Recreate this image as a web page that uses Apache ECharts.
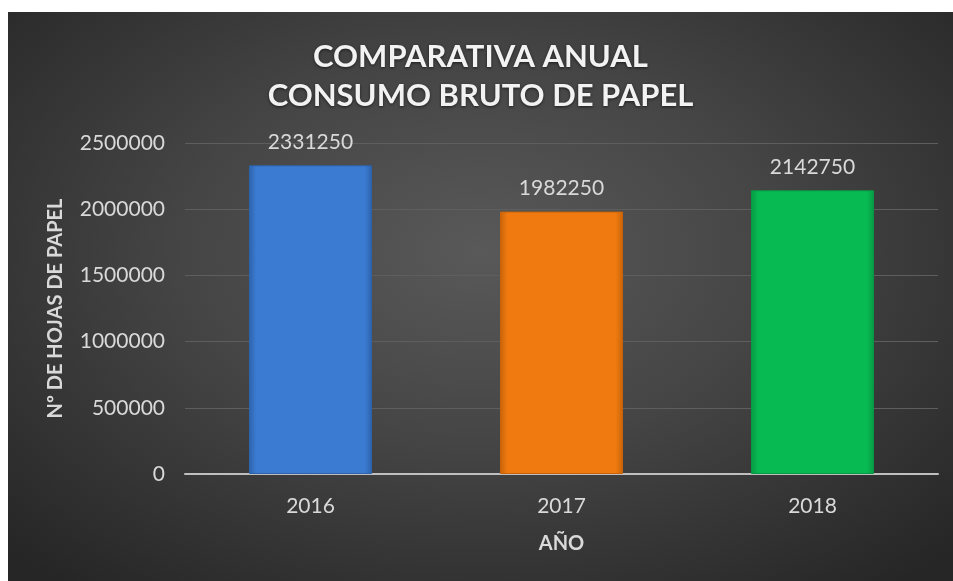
<!DOCTYPE html>
<html>
<head>
<meta charset="utf-8">
<script src="https://cdn.jsdelivr.net/npm/echarts@6/dist/echarts.min.js"></script>
<style>
  html, body { margin: 0; padding: 0; background: #ffffff; }
  #chart {
    position: absolute;
    left: 8px;
    top: 12px;
    width: 945px;
    height: 569px;
    background: radial-gradient(ellipse 70% 75% at 50% 42%, #595959 0%, #454545 45%, #262626 100%);
  }
</style>
</head>
<body>
<div id="chart"></div>
<script>
// data
const years = ['2016', '2017', '2018'];
const sheets = [2331250, 1982250, 2142750];
const barColors = [
    ['#4a90e4', '#3b7cd2', '#2d63ab'],
    ['#fb8a22', '#f07a10', '#c8630a'],
    ['#15cc62', '#08ba52', '#079a44']
];

const chart = echarts.init(document.getElementById('chart'));

const font = 'Lato, "Open Sans", sans-serif';

const seriesData = sheets.map((v, i) => ({
    value: v,
    itemStyle: {
        color: {
            type: 'linear', x: 0, y: 0, x2: 1, y2: 0,
            colorStops: [
                { offset: 0, color: barColors[i][2] },
                { offset: 0.06, color: barColors[i][1] },
                { offset: 0.94, color: barColors[i][1] },
                { offset: 1, color: barColors[i][2] }
            ]
        },
        borderColor: barColors[i][2],
        borderWidth: 1
    }
}));

const option = {
    backgroundColor: 'transparent',
    title: {
        text: 'COMPARATIVA ANUAL\nCONSUMO BRUTO DE PAPEL',
        left: 'center',
        top: 20,
        textStyle: {
            color: '#f2f2f2',
            fontFamily: font,
            fontSize: 31,
            fontWeight: 'bold',
            lineHeight: 39,
            textShadowColor: 'rgba(0,0,0,0.6)',
            textShadowBlur: 3,
            textShadowOffsetY: 1
        }
    },
    grid: {
        left: 177,
        right: 15,
        top: 131,
        bottom: 107
    },
    xAxis: {
        type: 'category',
        data: years,
        name: 'AÑO',
        nameLocation: 'middle',
        nameGap: 60,
        nameTextStyle: {
            color: '#d9d9d9',
            fontFamily: font,
            fontSize: 20,
            fontWeight: 'bold'
        },
        axisLine: { lineStyle: { color: '#bfbfbf', width: 2 } },
        axisTick: { show: false },
        axisLabel: {
            color: '#d9d9d9',
            fontFamily: font,
            fontSize: 21,
            margin: 22
        }
    },
    yAxis: {
        type: 'value',
        min: 0,
        max: 2500000,
        interval: 500000,
        name: 'Nº DE HOJAS DE PAPEL',
        nameLocation: 'middle',
        nameGap: 119,
        nameTextStyle: {
            color: '#d9d9d9',
            fontFamily: font,
            fontSize: 20,
            fontWeight: 'bold'
        },
        axisLine: { show: false },
        axisTick: { show: false },
        axisLabel: {
            color: '#d9d9d9',
            fontFamily: font,
            fontSize: 21,
            margin: 20,
            formatter: (v) => String(v)
        },
        splitLine: { lineStyle: { color: '#5e5e5e', width: 1 } }
    },
    series: [
        {
            type: 'bar',
            data: seriesData,
            barWidth: '49%',
            label: {
                show: true,
                position: 'top',
                distance: 13,
                color: '#d9d9d9',
                fontFamily: font,
                fontSize: 21
            }
        }
    ]
};

chart.setOption(option);
</script>
</body>
</html>
